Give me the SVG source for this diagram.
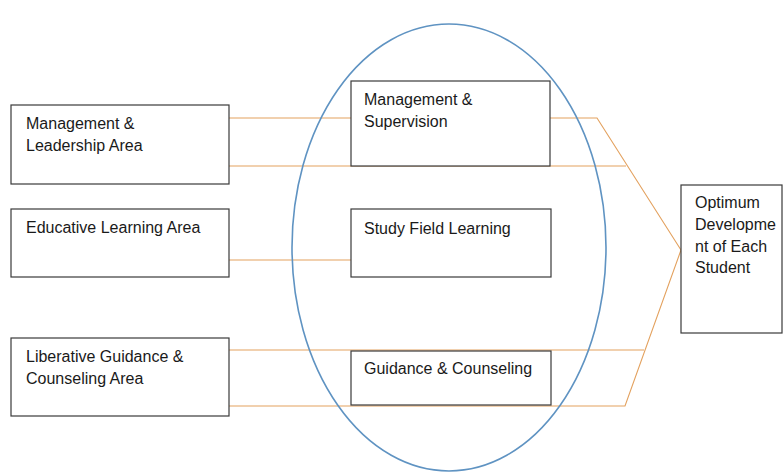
<svg xmlns="http://www.w3.org/2000/svg" width="783" height="472" viewBox="0 0 783 472">
  <style>
    .box { fill: #ffffff; stroke: #3a3a3a; stroke-width: 1.2; }
    .label { font-family: "Liberation Sans", Arial, sans-serif; font-size: 16px; fill: #1a1a1a; }
    .link { fill: none; stroke: #e3a15e; stroke-width: 1.1; }
    .ring { fill: none; stroke: #5f93c2; stroke-width: 1.6; }
  </style>
  <rect width="783" height="472" fill="#ffffff"/>

  <!-- connectors -->
  <g id="connectors">
    <line class="link" x1="229" y1="118" x2="351" y2="118"/>
    <polyline class="link" points="550,118 597,118 681,250"/>
    <line class="link" x1="229" y1="166" x2="626" y2="166"/>
    <line class="link" x1="229" y1="260" x2="351" y2="260"/>
    <line class="link" x1="229" y1="350" x2="644" y2="350"/>
    <polyline class="link" points="229,406 625,406 681,250"/>
  </g>

  <!-- grouping ellipse -->
  <g id="focus-ellipse">
    <ellipse class="ring" cx="449" cy="247.5" rx="157" ry="223.5"/>
  </g>

  <g id="management-leadership">
    <rect class="box" x="11" y="105" width="218" height="79"/>
    <text class="label" x="26" y="129">Management &amp;</text>
    <text class="label" x="26" y="151">Leadership Area</text>
  </g>

  <g id="educative-learning">
    <rect class="box" x="11" y="209" width="218" height="68"/>
    <text class="label" x="26" y="233">Educative Learning Area</text>
  </g>

  <g id="liberative-guidance">
    <rect class="box" x="11" y="338" width="218" height="78"/>
    <text class="label" x="26" y="362">Liberative Guidance &amp;</text>
    <text class="label" x="26" y="384">Counseling Area</text>
  </g>

  <g id="management-supervision">
    <rect class="box" x="351" y="81" width="199" height="85"/>
    <text class="label" x="364" y="105">Management &amp;</text>
    <text class="label" x="364" y="127">Supervision</text>
  </g>

  <g id="study-field">
    <rect class="box" x="351" y="209" width="200" height="68"/>
    <text class="label" x="364" y="234">Study Field Learning</text>
  </g>

  <g id="guidance-counseling">
    <rect class="box" x="351" y="351" width="200" height="54"/>
    <text class="label" x="364" y="374">Guidance &amp; Counseling</text>
  </g>

  <g id="optimum-development">
    <rect class="box" x="681" y="185" width="101" height="148"/>
    <text class="label" x="695" y="208">Optimum</text>
    <text class="label" x="695" y="230">Developme</text>
    <text class="label" x="695" y="252">nt of Each</text>
    <text class="label" x="695" y="273">Student</text>
  </g>
</svg>
